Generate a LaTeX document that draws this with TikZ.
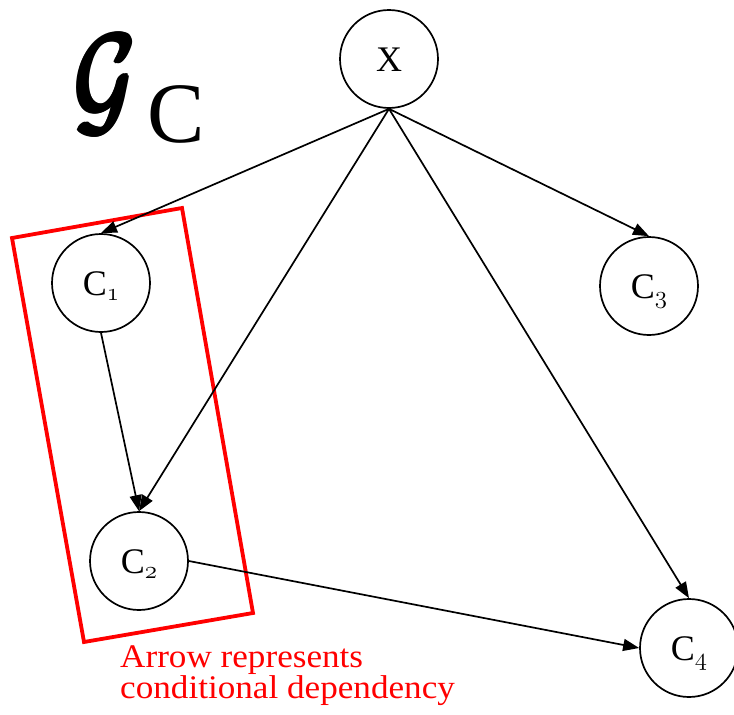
\documentclass[tikz,border=0pt]{standalone}
\usepackage{amsmath}
\usepackage{fontspec}
\setmainfont{Liberation Serif}
\newfontfamily\notefont{Liberation Serif}[FakeStretch=1.065]
\usetikzlibrary{arrows.meta}
\newcommand\subnum[1]{\raisebox{-5pt}{\fontsize{25}{25}\usefont{OML}{cmm}{m}{it}#1}}
\newcommand\plainG{\resizebox*{60pt}{97pt}{$\mathcal{G}$}}
\newcommand\shiftG[2]{\makebox[0pt][l]{\kern#1\raisebox{#2}{\plainG}}}
\newcommand\fatG{\shiftG{0pt}{0pt}\shiftG{1.5pt}{0pt}\shiftG{3pt}{0pt}\shiftG{4.5pt}{0pt}%
  \shiftG{0.8pt}{1.5pt}\shiftG{2.3pt}{1.5pt}\shiftG{3.8pt}{1.5pt}%
  \shiftG{0.8pt}{-1.5pt}\shiftG{2.3pt}{-1.5pt}\shiftG{3.8pt}{-1.5pt}%
  \kern4.5pt\phantom{\plainG}\kern4pt}
\begin{document}
\begin{tikzpicture}[x=1pt,y=-1pt,
  var/.style={circle,draw,line width=1.7pt,minimum size=98pt,inner sep=0pt,
    font=\fontsize{36}{36}\selectfont,text height=24pt,text depth=0pt},
  edge/.style={-{Triangle[length=16pt,width=12pt]},line width=1.7pt},
  note/.style={anchor=base west,inner sep=0pt,text=red,font=\notefont\fontsize{33}{33}\selectfont},
  group/.style={draw=red,line width=3.8pt,line join=miter}]
\useasboundingbox (0,0) rectangle (734,715);
% title
\node[inner sep=6pt] (G) at (107,85) {\fatG};
\node[anchor=base west,inner sep=0pt,font=\fontsize{86}{86}\selectfont] (Gsub) at (147,142) {C};
% nodes
\node[var] (X) at (389,59) {X};
\node[var] (C1) at (101,283) {C\subnum{1}};
\node[var] (C3) at (649,286) {C\subnum{3}};
\node[var] (C2) at (139,561) {C\subnum{2}};
\node[var] (C4) at (689,648) {C\subnum{4}};
% red group
\draw[group] (12,238) -- (182,208) -- (253,613) -- (84,642) -- cycle;
% edges
\draw[edge] (X.south) -- (C1.north);
\draw[edge] (X.south) -- (C2.north);
\draw[edge] (X.south) -- (C3.north);
\draw[edge] (X.south) -- (C4.north);
\draw[edge] (C1.south) -- (C2.north);
\draw[edge] (C2.east) -- (C4.west);
% note
\node[note] (note1) at (120,667) {Arrow represents};
\node[note] (note2) at (120,698) {conditional dependency};
\end{tikzpicture}
\end{document}
